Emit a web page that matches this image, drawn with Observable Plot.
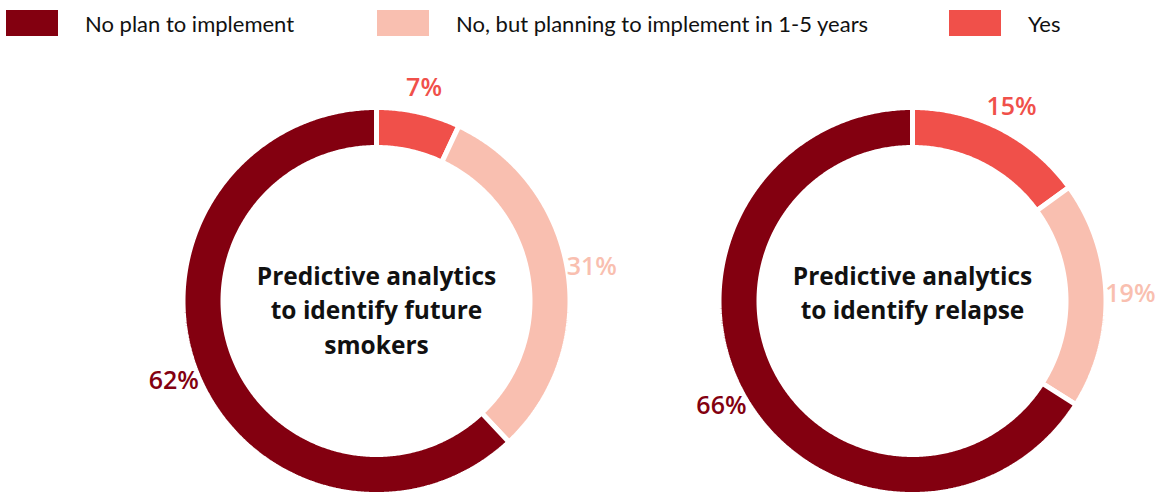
<!DOCTYPE html>
<html><head><meta charset="utf-8">
<script src="https://cdn.jsdelivr.net/npm/d3@7"></script>
<script src="https://cdn.jsdelivr.net/npm/@observablehq/plot@0.6"></script>
<style>
body{margin:0;background:#fff;font-family:Lato,sans-serif;}
#legend{position:relative;height:45px;}
.item{position:absolute;top:9px;display:flex;align-items:center;height:27px;}
.sw{width:52px;height:26px;margin-right:27px;flex:none;}
.lab{font-size:22px;color:#111;white-space:nowrap;line-height:27px;padding-top:2px;}
#chart svg{display:block;}
</style></head><body>
<div id="legend"></div>
<div id="chart"></div>
<script>
// ---- data ----
const categories = ["Yes", "No, but planning to implement in 1-5 years", "No plan to implement"];
const legendOrder = ["No plan to implement", "No, but planning to implement in 1-5 years", "Yes"];
const chartTitles = ["Predictive analytics\nto identify future\nsmokers", "Predictive analytics\nto identify relapse"];
const futureSmokers = [7, 31, 62];
const relapse = [15, 19, 66];
const seriesValues = [futureSmokers, relapse];

// ---- style / layout ----
const colors = ["#F0504A", "#F9BFB0", "#830010"];
const legendLeft = [6, 377, 949];
const W = 1168, H = 449;
const centersX = [376, 912];
const centerY = 255.5;
const Rout = 191, Rin = 156, gap = 5;
const labelR = 218;

// legend
const legend = document.getElementById("legend");
legendOrder.forEach((c, i) => {
  const it = document.createElement("div"); it.className = "item";
  it.style.left = legendLeft[i] + "px";
  const sw = document.createElement("div"); sw.className = "sw";
  sw.style.background = colors[categories.indexOf(c)];
  const lb = document.createElement("div"); lb.className = "lab"; lb.textContent = c;
  it.append(sw, lb); legend.append(it);
});

// build slice polygons from the data
const pts = [];
const labels = [];
const titles = [];
seriesValues.forEach((vals, i) => {
  const total = d3.sum(vals);
  const cx = centersX[i];
  let acc = 0;
  vals.forEach((v, j) => {
    const a0 = acc / total * 2 * Math.PI;
    const a1 = (acc + v) / total * 2 * Math.PI;
    acc += v;
    const n = Math.max(2, Math.ceil((a1 - a0) / (Math.PI / 360)));
    const key = i + "-" + j;
    const ring = [];
    for (let k = 0; k <= n; k++) {
      const a = a0 + (a1 - a0) * k / n;
      ring.push({a, r: Rout + gap / 2});
    }
    for (let k = n; k >= 0; k--) {
      const a = a0 + (a1 - a0) * k / n;
      ring.push({a, r: Rin - gap / 2});
    }
    ring.push(ring[0]);
    ring.forEach(p => pts.push({key, cat: categories[j], x: cx + p.r * Math.sin(p.a), y: centerY - p.r * Math.cos(p.a)}));
    const am = (a0 + a1) / 2;
    labels.push({cat: categories[j], text: v + "%", x: cx + labelR * Math.sin(am), y: centerY - labelR * Math.cos(am)});
  });
  titles.push({text: chartTitles[i], x: cx, y: centerY - 41});
});

const plot = Plot.plot({
  width: W, height: H,
  margin: 0,
  x: {domain: [0, W], range: [0, W], axis: null},
  y: {domain: [0, H], range: [0, H], axis: null},
  color: {domain: categories, range: colors},
  style: {fontFamily: "'Open Sans', sans-serif", background: "white"},
  marks: [
    Plot.line(pts, {x: "x", y: "y", z: "key", fill: "cat", stroke: "white", strokeWidth: gap, curve: "linear", strokeLinejoin: "miter"}),
    Plot.text(labels, {x: "x", y: "y", text: "text", fill: "cat", fontSize: 25, fontWeight: 600}),
    Plot.text(titles, {x: "x", y: "y", text: "text", fill: "#111", fontSize: 24.5, fontWeight: 700, lineHeight: 1.42, lineAnchor: "top"})
  ]
});
document.getElementById("chart").append(plot);
</script>
</body></html>
